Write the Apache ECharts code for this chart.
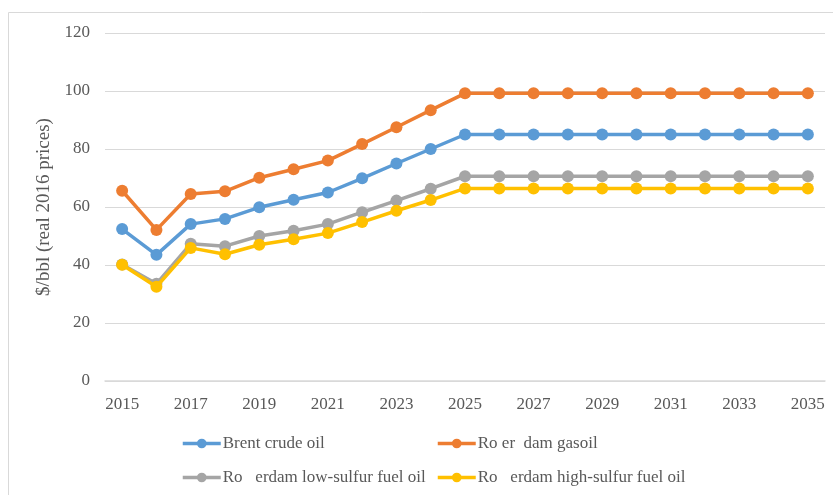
<!DOCTYPE html>
<html>
<head>
    <meta charset="UTF-8">
    <title>Oil prices</title>
    <script src="https://cdn.jsdelivr.net/npm/echarts@6/dist/echarts.min.js"></script>
    <style>
        body { margin: 0; background: #fff; }
        #chart { width: 833px; height: 495px; }
    </style>
</head>
<body>
<div id="chart"></div>
<script type="text/javascript">
    var years = ['2015', '2016', '2017', '2018', '2019', '2020', '2021', '2022', '2023', '2024', '2025',
        '2026', '2027', '2028', '2029', '2030', '2031', '2032', '2033', '2034', '2035'];
    var brent = [52.4, 43.5, 54.1, 55.9, 59.9, 62.5, 65, 69.9, 75, 80, 85, 85, 85, 85, 85, 85, 85, 85, 85, 85, 85];
    var gasoil = [65.6, 52.1, 64.5, 65.4, 70.1, 73, 76, 81.7, 87.5, 93.4, 99.2, 99.2, 99.2, 99.2, 99.2, 99.2, 99.2, 99.2, 99.2, 99.2, 99.2];
    var lowSulfur = [40.2, 33.5, 47.3, 46.5, 50, 51.8, 54.1, 58.2, 62.2, 66.3, 70.6, 70.6, 70.6, 70.6, 70.6, 70.6, 70.6, 70.6, 70.6, 70.6, 70.6];
    var highSulfur = [40.1, 32.5, 45.9, 43.7, 47, 48.9, 51, 54.8, 58.7, 62.4, 66.4, 66.4, 66.4, 66.4, 66.4, 66.4, 66.4, 66.4, 66.4, 66.4, 66.4];
    var names = ['Brent crude oil', 'Ro er  dam gasoil', 'Ro   erdam low-sulfur fuel oil', 'Ro   erdam high-sulfur fuel oil'];
    var colors = ['#5B9BD5', '#ED7D31', '#A5A5A5', '#FFC000'];

    var font = '"Liberation Serif", "DejaVu Serif", serif';
    var textColor = '#595959';

    function legendAt(name, left, top) {
        return {
            data: [name],
            left: left,
            top: top,
            itemWidth: 38,
            itemHeight: 12,
            itemGap: 0,
            lineStyle: { width: 3.5 },
            textStyle: { fontFamily: font, fontSize: 17, color: textColor, padding: [0, 0, 0, -3] }
        };
    }

    function lineSeries(i, data) {
        return {
            name: names[i],
            type: 'line',
            data: data,
            symbol: 'circle',
            symbolSize: 12,
            lineStyle: { width: 3.5, color: colors[i] },
            itemStyle: { color: colors[i] },
            z: 2 + i
        };
    }

    var myChart = echarts.init(document.getElementById('chart'));
    var option = {
        animation: false,
        graphic: [{
            type: 'rect',
            shape: { x: 8.5, y: 12.5, width: 840, height: 500 },
            style: { fill: 'none', stroke: '#d9d9d9', lineWidth: 1 },
            silent: true
        }],
        legend: [
            legendAt(names[0], 176, 430),
            legendAt(names[1], 431, 430),
            legendAt(names[2], 176, 464),
            legendAt(names[3], 431, 464)
        ],
        grid: { left: 105, right: 8, top: 33, bottom: 114 },
        xAxis: {
            type: 'category',
            data: years,
            boundaryGap: true,
            axisLine: { lineStyle: { color: '#d9d9d9', width: 1.5 } },
            axisTick: { show: false },
            axisLabel: { interval: 1, fontFamily: font, fontSize: 17, color: textColor, margin: 15 }
        },
        yAxis: {
            type: 'value',
            min: 0,
            max: 120,
            interval: 20,
            name: '$/bbl (real 2016 prices)',
            nameLocation: 'middle',
            nameGap: 48,
            nameTextStyle: { fontFamily: font, fontSize: 19, color: textColor },
            axisLine: { show: false },
            axisTick: { show: false },
            axisLabel: { fontFamily: font, fontSize: 17, color: textColor, margin: 15 },
            splitLine: { lineStyle: { color: '#d9d9d9', width: 1 } }
        },
        series: [
            lineSeries(0, brent),
            lineSeries(1, gasoil),
            lineSeries(2, lowSulfur),
            lineSeries(3, highSulfur)
        ]
    };
    option && myChart.setOption(option);
</script>
</body>
</html>
